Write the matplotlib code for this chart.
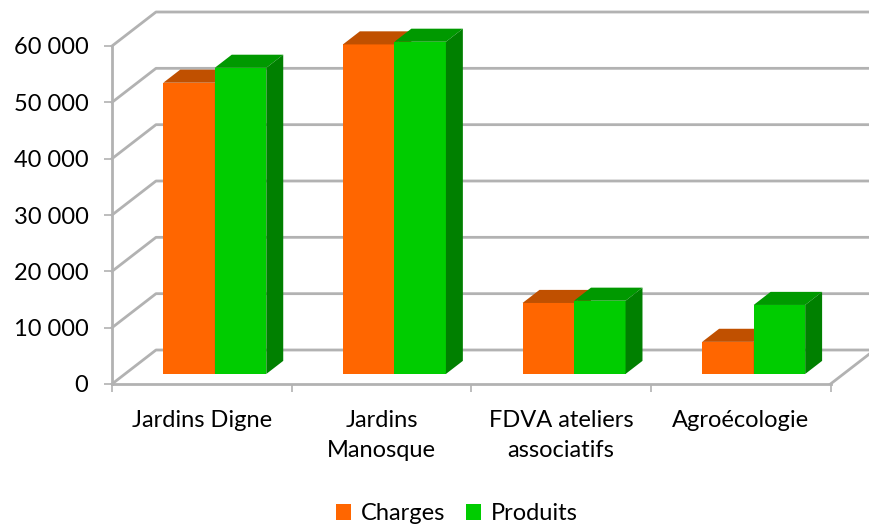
#!/usr/bin/env python3
import matplotlib
matplotlib.use("Agg")
import matplotlib.pyplot as plt
from matplotlib.patches import Patch, Polygon

categories = ["Jardins Digne", "Jardins\nManosque", "FDVA ateliers\nassociatifs", "Agroécologie"]
charges = [51700, 58500, 12600, 5700]
produits = [54350, 58970, 13000, 12250]
y_ticks = [0, 10000, 20000, 30000, 40000, 50000, 60000]
y_labels = ["0", "10 000", "20 000", "30 000", "40 000", "50 000", "60 000"]

W, H = 869, 525
LEFT, RIGHT, BOTTOM, TOP = 112, 830.5, 384, 46
GRID = "#b2b2b2"
FONT = "Lato"
SIZE = 17

plt.rcParams["font.family"] = [FONT, "DejaVu Sans"]

fig = plt.figure(figsize=(W / 100, H / 100), dpi=100)
ax = fig.add_axes([LEFT / W, 1 - BOTTOM / H, (RIGHT - LEFT) / W, (BOTTOM - TOP) / H])
ax.set_xlim(0, 4)
ax.set_ylim(0, 60000)

# pixel size of the 3d depth, turned into data units
ux = 4 / (RIGHT - LEFT)
uy = 60000 / (BOTTOM - TOP)
wall_dx, wall_dy = 44 * ux, 34 * uy


def depth(x, y, d):
    return x + d * wall_dx, y + d * wall_dy


def box(x0, x1, value, d0, d1, front, top, side):
    base = 0
    p = [depth(x0, base, d0), depth(x1, base, d0), depth(x1, value, d0), depth(x0, value, d0)]
    ax.add_patch(Polygon(p, fc=front, ec="none", clip_on=False, zorder=4))
    p = [depth(x0, value, d0), depth(x1, value, d0), depth(x1, value, d1), depth(x0, value, d1)]
    ax.add_patch(Polygon(p, fc=top, ec="none", clip_on=False, zorder=4))
    p = [depth(x1, base, d0), depth(x1, base, d1), depth(x1, value, d1), depth(x1, value, d0)]
    ax.add_patch(Polygon(p, fc=side, ec="none", clip_on=False, zorder=4))


# walls and floor
far_x = 4 + 60 * ux
for v in y_ticks:
    xb, yb = depth(0, v, 1)
    ax.plot([0, xb, far_x], [v, yb, yb], color=GRID, lw=2, clip_on=False, zorder=1)
xr, yr = depth(4, 0, 1)
ax.plot([4, xr], [0, yr], color=GRID, lw=2, clip_on=False, zorder=1)

bar_w = 51.5 * ux
d0, d1 = 0.295, 0.68
for i, (a, b) in enumerate(zip(charges, produits)):
    mid = i + 0.5
    box(mid - bar_w, mid, a, d0, d1, "#ff6600", "#c05000", "#c05000")
    box(mid, mid + bar_w, b, d0, d1, "#00cc00", "#009900", "#008000")

for s in ["top", "right"]:
    ax.spines[s].set_visible(False)
for s in ["left", "bottom"]:
    ax.spines[s].set_color(GRID)
    ax.spines[s].set_linewidth(2)

ax.set_yticks(y_ticks, y_labels)
ax.set_xticks(range(5), [""] * 5)
ax.set_xticks([i + 0.5 for i in range(4)], categories, minor=True)
ax.tick_params(axis="y", length=6, width=1.2, color=GRID, pad=11, labelsize=SIZE, labelcolor="black")
ax.tick_params(axis="x", which="major", length=6, width=1.2, color=GRID)
ax.tick_params(axis="x", which="minor", length=0, pad=18.7, labelsize=SIZE, labelcolor="black")
for t in ax.get_xticklabels(minor=True):
    t.set_linespacing(1.55)
ax.patch.set_alpha(0)

handles = [Patch(fc="#ff6600", label="Charges"), Patch(fc="#00cc00", label="Produits")]
fig.legend(handles=handles, ncol=2, frameon=False, loc="center",
           bbox_to_anchor=(457 / W, 1 - 514 / H), fontsize=SIZE,
           handlelength=0.64, handleheight=0.64, handletextpad=0.4, columnspacing=0.9,
           borderpad=0)

fig.savefig("out.png", dpi=100)
